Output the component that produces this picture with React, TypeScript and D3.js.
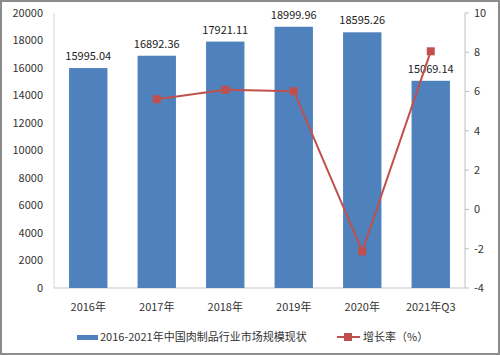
import * as d3 from 'd3'

const categories = ['2016年', '2017年', '2018年', '2019年', '2020年', '2021年Q3']
const marketSize = [15995.04, 16892.36, 17921.11, 18999.96, 18595.26, 15069.14]
const growth: (number | null)[] = [null, 5.61, 6.09, 6.02, -2.13, 8.05]
const leftTicks = [0, 2000, 4000, 6000, 8000, 10000, 12000, 14000, 16000, 18000, 20000]
const rightTicks = [-4, -2, 0, 2, 4, 6, 8, 10]
const barLabel = '2016-2021年中国肉制品行业市场规模现状'
const lineLabel = '增长率（%）'

const W = 500
const H = 355
const margin = { top: 13, right: 35, bottom: 67, left: 54 }
const font = '"Noto Sans CJK SC", "Noto Sans", sans-serif'
const barColor = '#4f81bd'
const lineColor = '#c0504d'

export default function App() {
  const x = d3
    .scaleBand()
    .domain(categories)
    .range([margin.left, W - margin.right])
    .paddingInner(0.44)
    .paddingOuter(0.22)

  const yL = d3.scaleLinear().domain([0, 20000]).range([H - margin.bottom, margin.top])
  const yR = d3.scaleLinear().domain([-4, 10]).range([H - margin.bottom, margin.top])

  const points = categories
    .map((c, i) => ({ c, v: growth[i] }))
    .filter(d => d.v !== null) as { c: string; v: number }[]

  const line = d3
    .line<{ c: string; v: number }>()
    .x(d => x(d.c)! + x.bandwidth() / 2)
    .y(d => yR(d.v))

  const plotRight = W - margin.right
  const baseY = H - margin.bottom

  return (
    <svg
      width={W}
      height={H}
      style={{ position: 'absolute', left: 0, top: 0, fontFamily: font }}
    >
      <rect x={1} y={1} width={W - 2} height={H - 2} fill="white" stroke="#8c8c8c" strokeWidth={2} />

      {/* axes lines */}
      <line x1={margin.left} x2={margin.left} y1={margin.top} y2={baseY} stroke="#d9d9d9" />
      <line x1={plotRight} x2={plotRight} y1={margin.top} y2={baseY} stroke="#bfbfbf" />
      <line x1={margin.left} x2={plotRight} y1={baseY} y2={baseY} stroke="#d9d9d9" strokeWidth={1.5} />

      {leftTicks.map(t => (
        <text key={t} x={margin.left - 11} y={yL(t)} dy="0.35em" textAnchor="end" fontSize={11} fill="#333">
          {t}
        </text>
      ))}

      {rightTicks.map(t => (
        <g key={t}>
          <line x1={plotRight} x2={plotRight + 4} y1={yR(t)} y2={yR(t)} stroke="#bfbfbf" />
          <text x={plotRight + 9} y={yR(t)} dy="0.35em" fontSize={11} fill="#333">
            {t}
          </text>
        </g>
      ))}

      {categories.map((c, i) => (
        <g key={c}>
          <rect
            x={x(c)}
            y={yL(marketSize[i])}
            width={x.bandwidth()}
            height={baseY - yL(marketSize[i])}
            fill={barColor}
          />
          <text
            x={x(c)! + x.bandwidth() / 2}
            y={yL(marketSize[i]) - 8}
            textAnchor="middle"
            fontSize={11}
            fill="#222"
          >
            {marketSize[i].toFixed(2)}
          </text>
          <text
            x={x(c)! + x.bandwidth() / 2}
            y={baseY + 23}
            textAnchor="middle"
            fontSize={11}
            fill="#333"
          >
            {c}
          </text>
        </g>
      ))}

      <path d={line(points)!} fill="none" stroke={lineColor} strokeWidth={2} />
      {points.map(d => (
        <rect
          key={d.c}
          x={x(d.c)! + x.bandwidth() / 2 - 4}
          y={yR(d.v) - 4}
          width={8}
          height={8}
          fill={lineColor}
        />
      ))}

      {/* legend */}
      <g transform="translate(0, 337)">
        <rect x={77} y={-2} width={21} height={5} fill={barColor} />
        <text x={100} y={0} dy="0.35em" fontSize={11} fill="#333">
          {barLabel}
        </text>
        <line x1={337} x2={360} y1={0} y2={0} stroke={lineColor} strokeWidth={2} />
        <rect x={344} y={-4} width={8} height={8} fill={lineColor} />
        <text x={363} y={0} dy="0.35em" fontSize={11} fill="#333">
          {lineLabel}
        </text>
      </g>
    </svg>
  )
}
